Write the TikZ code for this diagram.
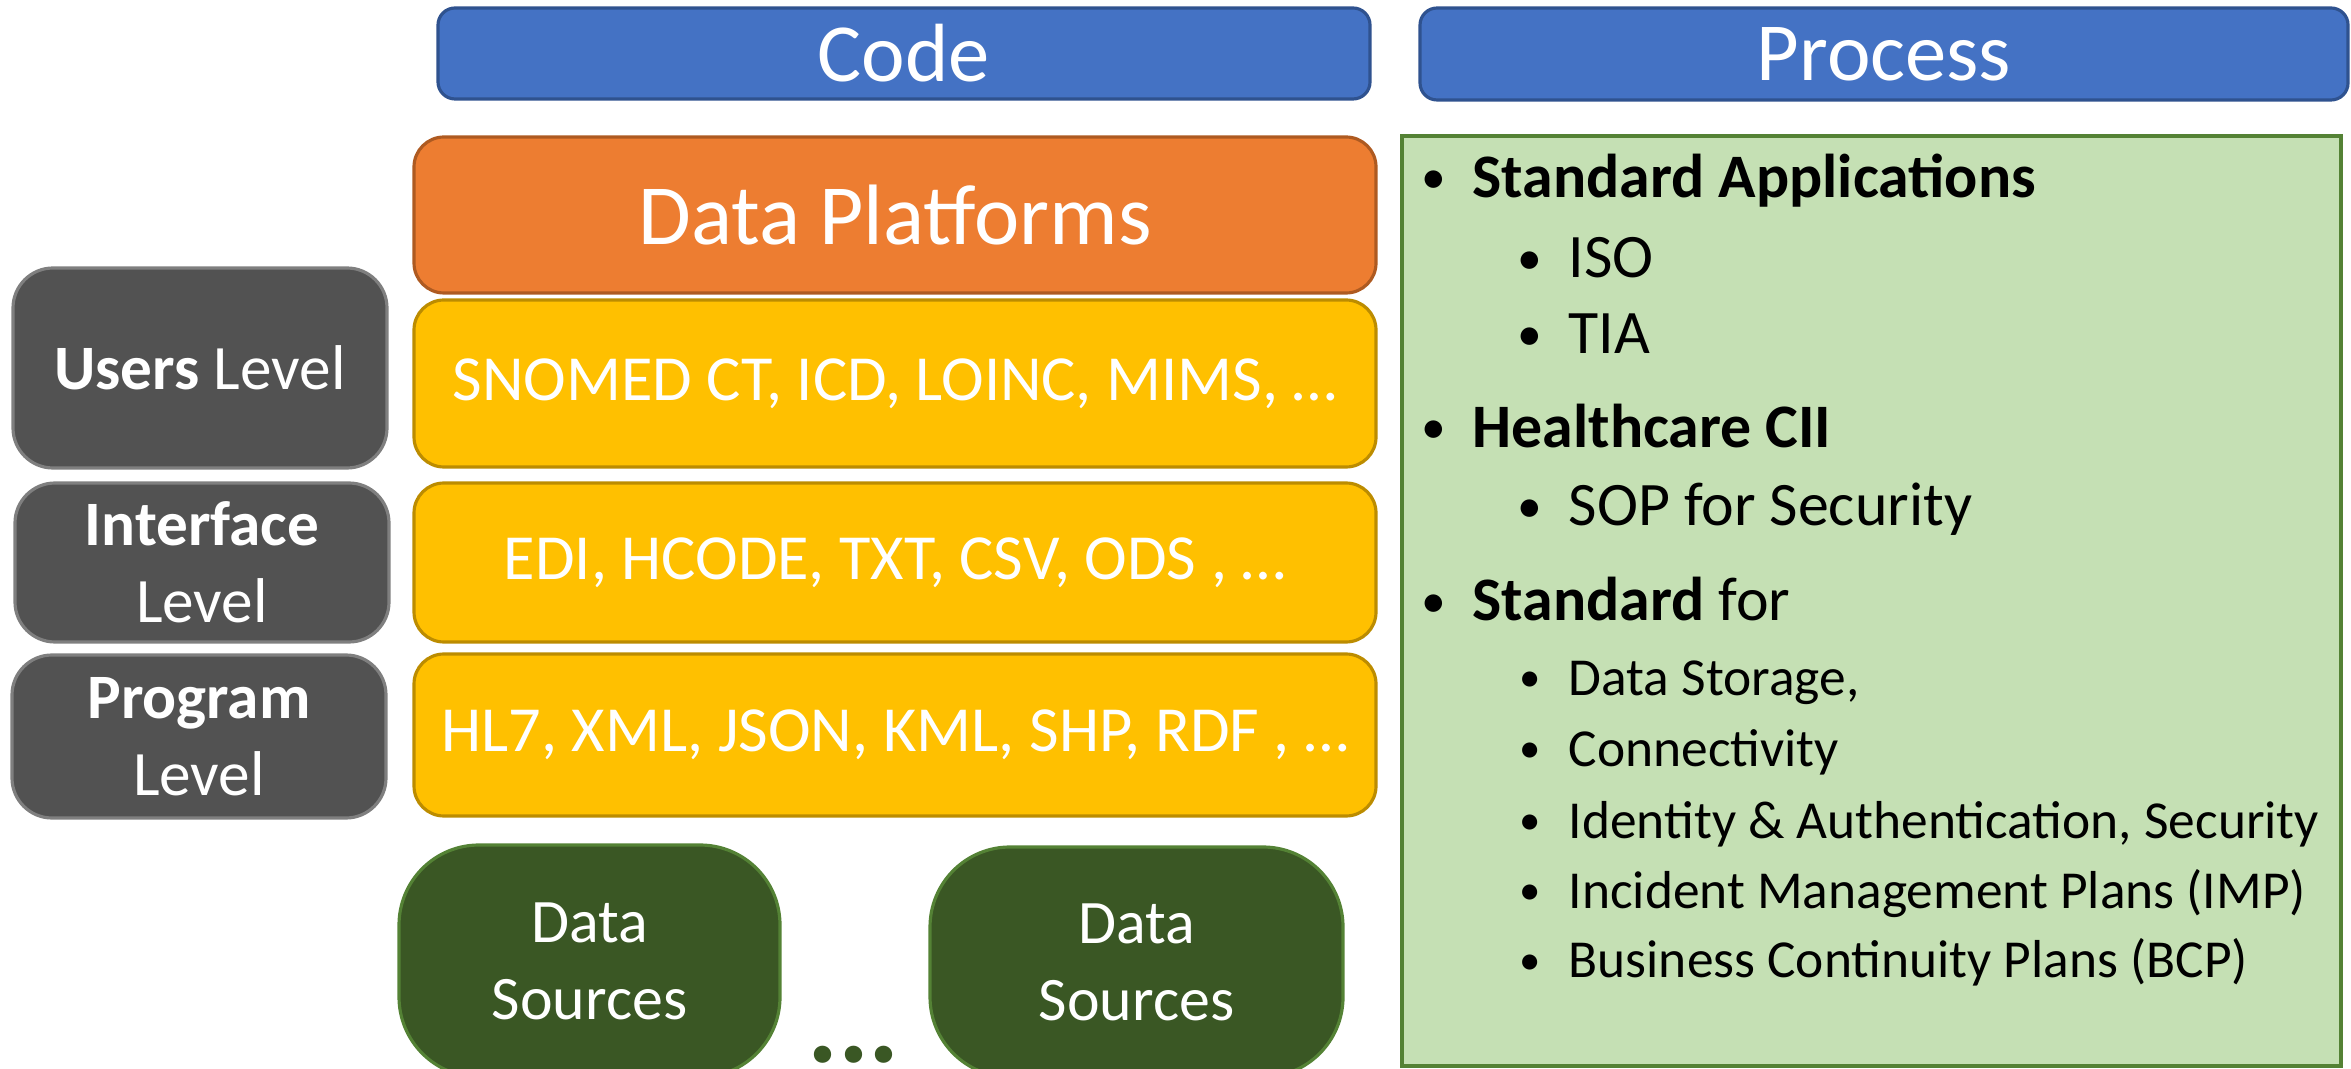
\documentclass[tikz,border=0pt]{standalone}
\usepackage{fontspec}
\setmainfont{Carlito}
\usepackage{xcolor}

\definecolor{headblue}{HTML}{4472C4}
\definecolor{headline}{HTML}{2F528F}
\definecolor{platorange}{HTML}{ED7D31}
\definecolor{platline}{HTML}{AE5A21}
\definecolor{layeryellow}{HTML}{FFC000}
\definecolor{layerline}{HTML}{BC8C00}
\definecolor{levelgray}{HTML}{525252}
\definecolor{levelline}{HTML}{7F7F7F}
\definecolor{sourcegreen}{HTML}{3A5724}
\definecolor{sourceline}{HTML}{548235}
\definecolor{panelgreen}{HTML}{C5E0B4}
\definecolor{panelline}{HTML}{548235}

\newcommand{\blt}{\llap{\makebox[0.77cm]{\raisebox{0.06em}{\scalebox{0.8}{\textbullet}}}}}

\begin{document}
\begin{tikzpicture}[
    head/.style={draw=headline, fill=headblue, line width=0.9pt, rounded corners=0.17cm,
        text=white, inner sep=0pt, font=\fontsize{23.5}{28}\selectfont},
    platform/.style={draw=platline, fill=platorange, line width=0.9pt, rounded corners=0.3cm,
        text=white, inner sep=0pt, minimum width=9.62cm, font=\fontsize{24.4}{29}\selectfont},
    layer/.style={draw=layerline, fill=layeryellow, line width=0.9pt, rounded corners=0.3cm,
        text=white, inner sep=0pt, minimum width=9.62cm, font=\fontsize{18.3}{22}\selectfont},
    level/.style={draw=levelline, fill=levelgray, line width=0.9pt, rounded corners=0.4cm,
        text=white, inner sep=0pt, minimum width=3.74cm, align=center, font=\fontsize{18}{22}\selectfont},
    source/.style={draw=sourceline, fill=sourcegreen, line width=0.9pt, rounded corners=0.8cm,
        text=white, inner sep=0pt, align=center, font=\fontsize{17.6}{21.9}\selectfont},
    panel/.style={draw=panelline, fill=panelgreen, line width=0.9pt, inner sep=0pt},
    mainitem/.style={anchor=base west, inner sep=0pt, font=\fontsize{17.6}{21}\selectfont},
    subitem/.style={anchor=base west, inner sep=0pt, font=\fontsize{17.6}{21}\selectfont},
    smallitem/.style={anchor=base west, inner sep=0pt, font=\fontsize{15.2}{18}\selectfont}
]
    \useasboundingbox (0,0) rectangle (23.51,10.68);

    % Headers
    \node[head, minimum width=9.32cm, minimum height=0.91cm] (code) at (9.04,10.145) {Code};
    \node[head, minimum width=9.28cm, minimum height=0.92cm] (process) at (18.84,10.14) {Process};

    % Code stack
    \node[platform, minimum height=1.56cm] (platform) at (8.95,8.53) {Data Platforms};
    \node[layer, minimum height=1.67cm] (terms) at (8.95,6.845) {SNOMED CT, ICD, LOINC, MIMS, …};
    \node[layer, minimum height=1.59cm] (formats) at (8.95,5.055) {EDI, HCODE, TXT, CSV, ODS , …};
    \node[layer, minimum height=1.62cm] (messages) at (8.95,3.33) {HL7, XML, JSON, KML, SHP, RDF , …};

    % Levels
    \node[level, minimum height=2.0cm] (users) at (2.0,7.0) {\textbf{Users} Level};
    \node[level, minimum height=1.59cm] (interface) at (2.02,5.055) {\textbf{Interface}\\Level};
    \node[level, minimum height=1.63cm] (program) at (1.99,3.315) {\textbf{Program}\\Level};

    % Data sources
    \node[source, minimum width=3.81cm, minimum height=2.32cm] (src1) at (5.895,1.07) {Data\\Sources};
    \node[source, minimum width=4.13cm, minimum height=2.30cm] (src2) at (11.365,1.06) {Data\\Sources};
    \node[anchor=base, inner sep=0pt, text=sourcegreen, font=\bfseries\fontsize{33}{36}\selectfont] (more) at (8.535,0.06) {...};

    % Process panel
    \node[panel, minimum width=9.39cm, minimum height=9.30cm] (panel) at (18.715,4.67) {};
    \node[mainitem] (apps) at (14.72,8.705) {\blt\textbf{Standard Applications}};
    \node[subitem] (iso) at (15.68,7.90) {\blt ISO};
    \node[subitem] (tia) at (15.68,7.14) {\blt TIA};
    \node[mainitem] (cii) at (14.72,6.205) {\blt\textbf{Healthcare CII}};
    \node[subitem] (sop) at (15.68,5.42) {\blt SOP for Security};
    \node[mainitem] (stdfor) at (14.72,4.47) {\blt\textbf{Standard} for};
    \node[smallitem] (storage) at (15.68,3.73) {\blt Data Storage,};
    \node[smallitem] (connect) at (15.68,3.02) {\blt Connectivity};
    \node[smallitem] (ident) at (15.68,2.30) {\blt Identity \& Authentication, Security};
    \node[smallitem] (imp) at (15.68,1.60) {\blt Incident Management Plans (IMP)};
    \node[smallitem] (bcp) at (15.68,0.905) {\blt Business Continuity Plans (BCP)};
\end{tikzpicture}
\end{document}
